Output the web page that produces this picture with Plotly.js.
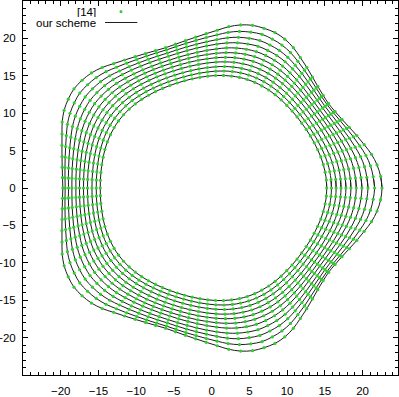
<!DOCTYPE html>
<html>
<head>
<meta charset="utf-8">
<script src="https://cdn.plot.ly/plotly-3.0.1.min.js"></script>
<style>
  html, body { margin: 0; padding: 0; background: white; }
  #plot { width: 399px; height: 397px; }
</style>
</head>
<body>
<div id="plot"></div>
<script>
// polar angle (deg) of every marker, same for all fronts
var angles = [0,4,8,12,16,20,24,28,32,36,40,44,48,52,56,60,64,68,72,76,80,84,88,92,96,100,104,108,112,116,120,124,128,132,136,140,144,148,152,156,160,164,168,172,176,180,184,188,192,196,200,204,208,212,216,220,224,228,232,236,240,244,248,252,256,260,264,268,272,276,280,284,288,292,296,300,304,308,312,316,320,324,328,332,336,340,344,348,352,356];

// radius of each front at those angles, outermost first
var r0 = [22.58,22.45,22.14,21.66,21.03,20.48,19.97,19.56,19.29,19.17,19.29,19.56,19.97,20.48,21.03,21.66,22.14,22.41, 22.45,22.41,22.14,21.68,21.10,20.64,20.27,20.00,19.81,19.72,19.81,20.00,20.27,20.64,21.10,21.68,22.14,22.41, 22.55,22.41,22.14,21.68,21.10,20.64,20.27,20.00,19.81,19.72,19.81,20.00,20.27,20.64,21.10,21.68,22.14,22.41, 22.55,22.41,22.14,21.68,21.10,20.64,20.27,20.00,19.81,19.72,19.81,20.00,20.27,20.64,21.10,21.68,22.14,22.41, 22.45,22.41,22.14,21.66,21.03,20.48,19.97,19.56,19.29,19.17,19.29,19.56,19.97,20.48,21.03,21.66,22.14,22.45];
var r1 = [21.60,21.47,21.26,20.91,20.43,19.99,19.58,19.25,19.02,18.93,19.02,19.25,19.58,19.99,20.43,20.91,21.26,21.47, 21.60,21.47,21.26,20.92,20.49,20.13,19.84,19.63,19.48,19.41,19.48,19.63,19.84,20.13,20.49,20.92,21.26,21.47, 21.60,21.47,21.26,20.92,20.49,20.13,19.84,19.63,19.48,19.41,19.48,19.63,19.84,20.13,20.49,20.92,21.26,21.47, 21.60,21.47,21.26,20.92,20.49,20.13,19.84,19.63,19.48,19.41,19.48,19.63,19.84,20.13,20.49,20.92,21.26,21.47, 21.60,21.47,21.26,20.91,20.43,19.99,19.58,19.25,19.02,18.93,19.02,19.25,19.58,19.99,20.43,20.91,21.26,21.47];
var r2 = [20.72,20.62,20.46,20.18,19.80,19.44,19.10,18.83,18.65,18.57,18.65,18.83,19.10,19.44,19.80,20.18,20.46,20.62, 20.72,20.62,20.46,20.19,19.85,19.56,19.32,19.15,19.03,18.97,19.03,19.15,19.32,19.56,19.85,20.19,20.46,20.62, 20.72,20.62,20.46,20.19,19.85,19.56,19.32,19.15,19.03,18.97,19.03,19.15,19.32,19.56,19.85,20.19,20.46,20.62, 20.72,20.62,20.46,20.19,19.85,19.56,19.32,19.15,19.03,18.97,19.03,19.15,19.32,19.56,19.85,20.19,20.46,20.62, 20.72,20.62,20.46,20.18,19.80,19.44,19.10,18.83,18.65,18.57,18.65,18.83,19.10,19.44,19.80,20.18,20.46,20.62];
var r3 = [19.92,19.84,19.71,19.49,19.20,18.91,18.63,18.40,18.25,18.19,18.25,18.40,18.63,18.91,19.20,19.49,19.71,19.84, 19.92,19.84,19.71,19.50,19.24,19.01,18.81,18.66,18.56,18.52,18.56,18.66,18.81,19.01,19.24,19.50,19.71,19.84, 19.92,19.84,19.71,19.50,19.24,19.01,18.81,18.66,18.56,18.52,18.56,18.66,18.81,19.01,19.24,19.50,19.71,19.84, 19.92,19.84,19.71,19.50,19.24,19.01,18.81,18.66,18.56,18.52,18.56,18.66,18.81,19.01,19.24,19.50,19.71,19.84, 19.92,19.84,19.71,19.49,19.20,18.91,18.63,18.40,18.25,18.19,18.25,18.40,18.63,18.91,19.20,19.49,19.71,19.84];
var r4 = [19.17,19.11,19.00,18.82,18.58,18.33,18.10,17.90,17.78,17.73,17.78,17.90,18.10,18.33,18.58,18.82,19.00,19.11, 19.17,19.11,19.00,18.83,18.61,18.41,18.24,18.11,18.03,17.99,18.03,18.11,18.24,18.41,18.61,18.83,19.00,19.11, 19.17,19.11,19.00,18.83,18.61,18.41,18.24,18.11,18.03,17.99,18.03,18.11,18.24,18.41,18.61,18.83,19.00,19.11, 19.17,19.11,19.00,18.83,18.61,18.41,18.24,18.11,18.03,17.99,18.03,18.11,18.24,18.41,18.61,18.83,19.00,19.11, 19.17,19.11,19.00,18.82,18.58,18.33,18.10,17.90,17.78,17.73,17.78,17.90,18.10,18.33,18.58,18.82,19.00,19.11];
var r5 = [18.46,18.42,18.33,18.18,18.00,17.80,17.61,17.45,17.35,17.31,17.35,17.45,17.61,17.80,18.00,18.18,18.33,18.42, 18.46,18.42,18.33,18.19,18.02,17.86,17.72,17.61,17.54,17.51,17.54,17.61,17.72,17.86,18.02,18.19,18.33,18.42, 18.46,18.42,18.33,18.19,18.02,17.86,17.72,17.61,17.54,17.51,17.54,17.61,17.72,17.86,18.02,18.19,18.33,18.42, 18.46,18.42,18.33,18.19,18.02,17.86,17.72,17.61,17.54,17.51,17.54,17.61,17.72,17.86,18.02,18.19,18.33,18.42, 18.46,18.42,18.33,18.18,18.00,17.80,17.61,17.45,17.35,17.31,17.35,17.45,17.61,17.80,18.00,18.18,18.33,18.42];
var r6 = [17.80,17.76,17.69,17.57,17.41,17.25,17.09,16.96,16.88,16.84,16.88,16.96,17.09,17.25,17.41,17.57,17.69,17.76, 17.80,17.76,17.69,17.57,17.43,17.29,17.17,17.07,17.01,16.98,17.01,17.07,17.17,17.29,17.43,17.57,17.69,17.76, 17.80,17.76,17.69,17.57,17.43,17.29,17.17,17.07,17.01,16.98,17.01,17.07,17.17,17.29,17.43,17.57,17.69,17.76, 17.80,17.76,17.69,17.57,17.43,17.29,17.17,17.07,17.01,16.98,17.01,17.07,17.17,17.29,17.43,17.57,17.69,17.76, 17.80,17.76,17.69,17.57,17.41,17.25,17.09,16.96,16.88,16.84,16.88,16.96,17.09,17.25,17.41,17.57,17.69,17.76];
var r7 = [17.15,17.12,17.06,16.96,16.83,16.69,16.56,16.46,16.38,16.36,16.38,16.46,16.56,16.69,16.83,16.96,17.06,17.12, 17.15,17.12,17.06,16.96,16.84,16.72,16.61,16.53,16.47,16.45,16.47,16.53,16.61,16.72,16.84,16.96,17.06,17.12, 17.15,17.12,17.06,16.96,16.84,16.72,16.61,16.53,16.47,16.45,16.47,16.53,16.61,16.72,16.84,16.96,17.06,17.12, 17.15,17.12,17.06,16.96,16.84,16.72,16.61,16.53,16.47,16.45,16.47,16.53,16.61,16.72,16.84,16.96,17.06,17.12, 17.15,17.12,17.06,16.96,16.83,16.69,16.56,16.46,16.38,16.36,16.38,16.46,16.56,16.69,16.83,16.96,17.06,17.12];
var r8 = [16.50,16.48,16.42,16.33,16.21,16.10,15.98,15.89,15.83,15.81,15.83,15.89,15.98,16.10,16.21,16.33,16.42,16.48, 16.50,16.48,16.42,16.33,16.22,16.11,16.01,15.93,15.88,15.86,15.88,15.93,16.01,16.11,16.22,16.33,16.42,16.48, 16.50,16.48,16.42,16.33,16.22,16.11,16.01,15.93,15.88,15.86,15.88,15.93,16.01,16.11,16.22,16.33,16.42,16.48, 16.50,16.48,16.42,16.33,16.22,16.11,16.01,15.93,15.88,15.86,15.88,15.93,16.01,16.11,16.22,16.33,16.42,16.48, 16.50,16.48,16.42,16.33,16.21,16.10,15.98,15.89,15.83,15.81,15.83,15.89,15.98,16.10,16.21,16.33,16.42,16.48];
var r9 = [15.88,15.86,15.81,15.73,15.63,15.52,15.42,15.34,15.29,15.27,15.29,15.34,15.42,15.52,15.63,15.73,15.81,15.86, 15.88,15.86,15.81,15.73,15.63,15.53,15.43,15.36,15.31,15.29,15.31,15.36,15.43,15.53,15.63,15.73,15.81,15.86, 15.88,15.86,15.81,15.73,15.63,15.53,15.43,15.36,15.31,15.29,15.31,15.36,15.43,15.53,15.63,15.73,15.81,15.86, 15.88,15.86,15.81,15.73,15.63,15.53,15.43,15.36,15.31,15.29,15.31,15.36,15.43,15.53,15.63,15.73,15.81,15.86, 15.88,15.86,15.81,15.73,15.63,15.52,15.42,15.34,15.29,15.27,15.29,15.34,15.42,15.52,15.63,15.73,15.81,15.86];
var r10 = [15.25,15.24,15.19,15.13,15.05,14.96,14.88,14.82,14.78,14.76,14.78,14.82,14.88,14.96,15.05,15.13,15.19,15.24, 15.25,15.24,15.19,15.13,15.05,14.96,14.88,14.82,14.78,14.76,14.78,14.82,14.88,14.96,15.05,15.13,15.19,15.24, 15.25,15.24,15.19,15.13,15.05,14.96,14.88,14.82,14.78,14.76,14.78,14.82,14.88,14.96,15.05,15.13,15.19,15.24, 15.25,15.24,15.19,15.13,15.05,14.96,14.88,14.82,14.78,14.76,14.78,14.82,14.88,14.96,15.05,15.13,15.19,15.24, 15.25,15.24,15.19,15.13,15.05,14.96,14.88,14.82,14.78,14.76,14.78,14.82,14.88,14.96,15.05,15.13,15.19,15.24];

var fronts = [r0, r1, r2, r3, r4, r5, r6, r7, r8, r9, r10];

var tickVals = [-20, -15, -10, -5, 0, 5, 10, 15, 20];
var legendNames = ['[14]', 'our scheme'];

var lineColor = '#1e1e1e', dotColor = '#2ecc2e';
var font = {family: 'Liberation Sans, Arial, sans-serif', size: 11.5, color: 'black'};

var lines = [], dots = [];
for (var k = 0; k < fronts.length; k++) {
    var xs = [], ys = [];
    for (var i = 0; i < angles.length; i++) {
        var a = angles[i] * Math.PI / 180;
        xs.push(fronts[k][i] * Math.cos(a));
        ys.push(fronts[k][i] * Math.sin(a));
    }
    // closed curve for the line, smoothed by plotly
    lines.push({
        x: xs.concat([xs[0], xs[1]]), y: ys.concat([ys[0], ys[1]]),
        mode: 'lines', line: {color: lineColor, width: 1, shape: 'spline', smoothing: 1},
        hoverinfo: 'skip', showlegend: false
    });
    dots.push({
        x: xs, y: ys,
        mode: 'markers', marker: {color: dotColor, size: 3.2},
        hoverinfo: 'skip', showlegend: false
    });
}

function axis(range) {
    return {
        range: range,
        tickmode: 'array',
        tickvals: tickVals,
        ticks: 'inside', ticklen: 5, tickwidth: 1, tickcolor: 'black',
        minor: {dtick: 1, tick0: 0, ticks: 'inside', ticklen: 3, tickcolor: 'black'},
        showline: true, linecolor: 'black', linewidth: 1, mirror: 'allticks',
        showgrid: false, zeroline: false,
        tickfont: font,
        fixedrange: true
    };
}

var xax = axis([-25, 24.7]);
xax.ticklabelstandoff = 5;
var yax = axis([-25, 25]);
yax.ticklabelstandoff = 4;

var layout = {
    width: 399, height: 397,
    margin: {l: 23, r: 1, t: 1, b: 22},
    paper_bgcolor: 'white', plot_bgcolor: 'white',
    showlegend: false,
    xaxis: xax, yaxis: yax,
    // gnuplot style key: text right aligned, sample on the right
    annotations: [
        {xref: 'paper', yref: 'paper', x: 0.201, y: 0.973, text: legendNames[0],
         xanchor: 'right', yanchor: 'middle', showarrow: false, font: font, height: 11},
        {xref: 'paper', yref: 'paper', x: 0.201, y: 0.9425, text: legendNames[1],
         xanchor: 'right', yanchor: 'middle', showarrow: false, font: font, height: 11}
    ],
    shapes: [
        {type: 'circle', xref: 'paper', yref: 'paper',
         x0: 0.2573, x1: 0.2653, y0: 0.9675, y1: 0.9755,
         fillcolor: dotColor, line: {width: 0}},
        {type: 'line', xref: 'paper', yref: 'paper',
         x0: 0.2187, x1: 0.3048, y0: 0.9425, y1: 0.9425,
         line: {color: lineColor, width: 1}}
    ]
};

Plotly.newPlot('plot', lines.concat(dots), layout, {displayModeBar: false, staticPlot: true});
</script>
</body>
</html>
